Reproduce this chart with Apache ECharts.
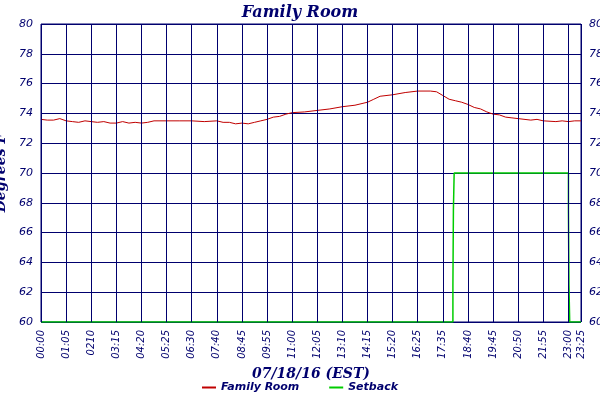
<!DOCTYPE html>
<html><head><meta charset="utf-8">
<script src="https://cdn.jsdelivr.net/npm/echarts@6/dist/echarts.min.js"></script>
<style>html,body{margin:0;background:#fff}#c{width:600px;height:400px}</style>
</head><body><div id="c"></div>
<script>
const tickLabels=['00:00','01:05','0210','03:15','04:20','05:25','06:30','07:40','08:45','09:55','11:00','12:05','13:10','14:15','15:20','16:25','17:35','18:40','19:45','20:50','21:55','23:00','23:25'];
const tickPos=[0,1,2,3,4,5,6,7,8,9,10,11,12,13,14,15,16,17,18,19,20,21,21.5];
const yTicks=[60,62,64,66,68,70,72,74,76,78,80];
// [axis position, °F]
const familyRoom=[[0,73.6],[0.25,73.55],[0.5,73.55],[0.75,73.65],[1,73.5],[1.25,73.45],[1.5,73.4],[1.75,73.5],[2,73.45],[2.25,73.4],[2.5,73.45],[2.75,73.35],[3,73.35],[3.25,73.45],[3.5,73.35],[3.75,73.4],[4,73.35],[4.25,73.4],[4.5,73.5],[5,73.5],[5.5,73.5],[6,73.5],[6.5,73.45],[7,73.5],[7.25,73.4],[7.5,73.4],[7.75,73.3],[8,73.35],[8.25,73.3],[8.5,73.4],[8.75,73.5],[9,73.6],[9.25,73.75],[9.5,73.8],[9.75,73.95],[10,74.05],[10.5,74.1],[11,74.2],[11.5,74.3],[12,74.45],[12.5,74.55],[13,74.75],[13.25,74.95],[13.5,75.15],[14,75.25],[14.5,75.4],[15,75.5],[15.5,75.5],[15.75,75.45],[16,75.2],[16.25,74.95],[16.5,74.85],[16.75,74.75],[17,74.6],[17.25,74.4],[17.5,74.3],[17.75,74.1],[18,73.95],[18.25,73.9],[18.5,73.75],[18.75,73.7],[19,73.65],[19.5,73.55],[19.75,73.6],[20,73.5],[20.5,73.45],[20.75,73.5],[21,73.45],[21.25,73.5],[21.5,73.5]];
const setback=[[0,60],[16.4,60],[16.4,62.5],[16.42,62.5],[16.42,67.5],[16.45,67.5],[16.45,70],[21.0,70],[21.0,67.5],[21.02,67.5],[21.02,62.5],[21.05,62.5],[21.05,60],[21.5,60]];
const navy='#00006e';
const ax={type:'value',min:60,max:80,interval:2,axisLine:{show:false},axisTick:{show:false},
  axisLabel:{color:navy,fontStyle:'italic',fontSize:11,fontFamily:'DejaVu Sans'},splitLine:{lineStyle:{color:navy,width:1}}};
const chart=echarts.init(document.getElementById('c'));
chart.setOption({
  backgroundColor:'#fff',animation:false,
  title:{text:'Family Room',left:'center',top:0,textStyle:{color:navy,fontStyle:'italic',fontWeight:'bold',fontSize:16,fontFamily:'DejaVu Serif'}},
  grid:{left:41,right:19,top:24,bottom:78,containLabel:false,outerBoundsMode:'none',show:true,borderColor:navy,borderWidth:1},
  legend:{bottom:2,left:'center',itemWidth:14,itemHeight:2,itemGap:30,textStyle:{color:navy,fontStyle:'italic',fontWeight:'bold',fontSize:11,fontFamily:'DejaVu Sans'},
    data:[{name:'Family Room',icon:'rect'},{name:'Setback',icon:'rect'}]},
  xAxis:{type:'value',min:0,max:21.5,name:'07/18/16 (EST)',nameLocation:'middle',nameGap:45,
    nameTextStyle:{color:navy,fontStyle:'italic',fontWeight:'bold',fontSize:14,fontFamily:'DejaVu Serif'},
    axisLine:{show:false},axisTick:{show:false},
    axisLabel:{customValues:tickPos,rotate:90,color:navy,fontStyle:'italic',fontSize:10,fontFamily:'DejaVu Sans',
      formatter:v=>tickLabels[tickPos.indexOf(v)]},
    splitLine:{show:false}},
  yAxis:[Object.assign({name:'Degrees F',nameLocation:'middle',nameGap:26,nameTextStyle:{color:navy,fontStyle:'italic',fontWeight:'bold',fontSize:14,fontFamily:'DejaVu Serif'}},ax),
         Object.assign({position:'right'},ax,{splitLine:{show:false}})],
  series:[
   {name:'Vgrid',type:'line',data:[],silent:true,markLine:{symbol:'none',silent:true,label:{show:false},lineStyle:{color:navy,width:1,type:'solid'},data:tickPos.map(p=>({xAxis:p}))}},
   {name:'Family Room',type:'line',data:familyRoom,showSymbol:false,lineStyle:{color:'#c00000',width:1},itemStyle:{color:'#c00000'}},
   {name:'Setback',type:'line',data:setback,showSymbol:false,lineStyle:{color:'#00cc00',width:1.5},itemStyle:{color:'#00cc00'}}
  ]
});
</script></body></html>
